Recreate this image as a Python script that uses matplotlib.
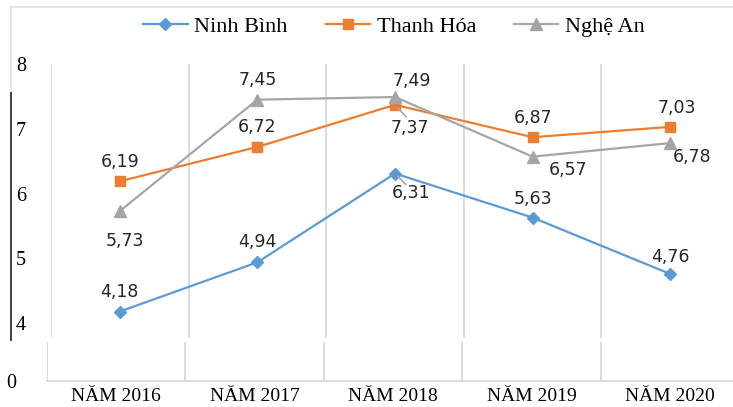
import numpy as np
import matplotlib.pyplot as plt
from matplotlib.lines import Line2D

years = ['NĂM 2016', 'NĂM 2017', 'NĂM 2018', 'NĂM 2019', 'NĂM 2020']
ninh_binh = [4.18, 4.94, 6.31, 5.63, 4.76]
thanh_hoa = [6.19, 6.72, 7.37, 6.87, 7.03]
nghe_an = [5.73, 7.45, 7.49, 6.57, 6.78]

# label offsets in pixels (dx, dy) relative to each point
nb_off = [(0, 20), (0, 20), (16, -19), (0, 19), (0, 17)]
th_off = [(0, 19), (0, 20), (15, -23), (0, 19), (7, 19)]
na_off = [(5, -30), (0, 20), (17, 16), (35, -13), (22, -14)]

W, H = 733, 407
fig = plt.figure(figsize=(W / 100, H / 100), dpi=100)
serif = 'Liberation Serif'

def fx(px):
    return px / W

def fy(py):
    return 1 - py / H

# main part of the broken axis (4..8)
ax = fig.add_axes([fx(51), fy(338), fx(739 - 51), (338 - 64) / H])
ax.set_xlim(-0.5, 4.5)
ax.set_ylim(8 - (338 - 64) / 64.8, 8)
x = np.arange(len(years))

ax.plot(x, ninh_binh, color='#5B9BD5', lw=1.6, marker='D', ms=6, label='Ninh Bình', zorder=3)
ax.plot(x, thanh_hoa, color='#ED7D31', lw=1.6, marker='s', ms=7, label='Thanh Hóa', zorder=3)
ax.plot(x, nghe_an, color='#A5A5A5', lw=1.6, marker='^', ms=8, label='Nghệ An', zorder=3)

for xb in np.arange(-0.5, 4.6, 1):
    ax.axvline(xb, color='#D9D9D9', lw=1.3, zorder=1)

for vals, offs in [(ninh_binh, nb_off), (thanh_hoa, th_off), (nghe_an, na_off)]:
    for i, v in enumerate(vals):
        dx, dy = offs[i]
        ax.annotate(f'{v:.2f}'.replace('.', ','), (i, v),
                    xytext=(dx * 0.72, dy * 0.72), textcoords='offset points',
                    ha='center', va='center', fontsize=12.5, color='#262626',
                    fontfamily='DejaVu Sans', zorder=4)

# leader lines at 2018
ax.annotate('', (2, 6.31), xytext=(11 * 0.72, -11 * 0.72), textcoords='offset points',
            arrowprops=dict(arrowstyle='-', color='#A5A5A5', lw=1.2, shrinkA=0, shrinkB=3))
ax.annotate('', (2, 7.37), xytext=(11 * 0.72, -12 * 0.72), textcoords='offset points',
            arrowprops=dict(arrowstyle='-', color='#A5A5A5', lw=1.2, shrinkA=0, shrinkB=3))

ax.set_yticks([4, 5, 6, 7, 8])
ax.set_yticklabels(['4', '5', '6', '7', '8'], fontfamily=serif, fontsize=14.5)
ax.tick_params(axis='y', length=0, pad=18)
ax.set_xticks([])
for s in ax.spines.values():
    s.set_visible(False)

# bottom part (0)
ax2 = fig.add_axes([fx(47), fy(381), fx(739 - 47), (381 - 342) / H])
ax2.set_xlim(-0.5, 4.5)
ax2.set_ylim(0, 1)
for xb in np.arange(-0.5, 4.6, 1):
    ax2.axvline(xb, color='#D9D9D9', lw=1.3)
ax2.set_yticks([0])
ax2.set_yticklabels(['0'], fontfamily=serif, fontsize=14.5)
ax2.tick_params(axis='y', length=0, pad=22)
ax2.set_xticks(x)
ax2.set_xticklabels(years, fontfamily=serif, fontsize=14)
ax2.tick_params(axis='x', length=0, pad=5)
for s in ['top', 'right', 'left']:
    ax2.spines[s].set_visible(False)
ax2.spines['bottom'].set_color('#D9D9D9')
ax2.spines['bottom'].set_linewidth(1.3)

# chart frame pieces
fig.add_artist(Line2D([fx(11), 1], [fy(7), fy(7)], color='#E0E0E0', lw=1.2))
fig.add_artist(Line2D([fx(11), fx(11)], [fy(7), fy(93)], color='#E0E0E0', lw=1.2))
fig.add_artist(Line2D([fx(11), fx(11)], [fy(93), fy(340)], color='#404040', lw=1.4))

fig.legend(loc='center', bbox_to_anchor=(fx(394), fy(27)), ncol=3, frameon=False,
           prop={'family': serif, 'size': 16}, handlelength=2.0, handletextpad=0.3,
           columnspacing=1.7)

fig.savefig('out.png', dpi=100)
